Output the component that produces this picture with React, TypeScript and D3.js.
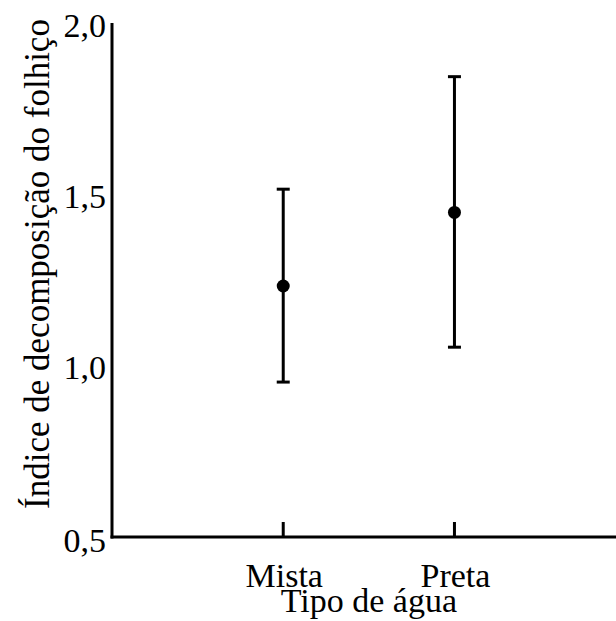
import React from "react";
import * as d3 from "d3";

const categories = ["Mista", "Preta"];
const means = [1.234, 1.449];
const upper = [1.517, 1.846];
const lower = [0.953, 1.055];
const yTicks = [0.5, 1.0, 1.5, 2.0];
const yTickLabels = ["0,5", "1,0", "1,5", "2,0"];
const xTitle = "Tipo de água";
const yTitle = "Índice de decomposição do folhiço";

const W = 616;
const H = 621;
const x0 = 112;
const yBottom = 537;
const yTop = 23;

export default function App() {
  const y = d3.scaleLinear().domain([0.5, 2.0]).range([yBottom, 24]);
  const x = d3.scaleLinear().domain([0, 2.85]).range([x0, 600]);
  const family = '"Liberation Serif", "Times New Roman", Times, serif';
  const ts: React.CSSProperties = { fontFamily: family, fontSize: 34 };
  const tx: React.CSSProperties = { fontFamily: family, fontSize: 34 };
  const tt: React.CSSProperties = { fontFamily: family, fontSize: 35 };
  return (
    <svg
      width={W}
      height={H}
      style={{ position: "absolute", left: 0, top: 0, background: "#fff" }}
    >
      <rect width={W} height={H} fill="#fff" />
      <line x1={x0} x2={x0} y1={yTop} y2={yBottom + 1.5} stroke="#000" strokeWidth={3} />
      <line x1={x0 - 1.5} x2={W} y1={yBottom} y2={yBottom} stroke="#000" strokeWidth={3} />
      {yTicks.map((t, i) => (
        <text key={t} x={x0 - 6} y={y(t) + 13 + (i === 0 ? 2 : 0)} textAnchor="end" style={ts}>
          {yTickLabels[i]}
        </text>
      ))}
      {categories.map((c, i) => (
        <g key={c}>
          <line x1={x(i + 1)} x2={x(i + 1)} y1={yBottom} y2={yBottom - 15} stroke="#000" strokeWidth={3} />
          <text x={x(i + 1) + 1} y={587} textAnchor="middle" style={ts}>
            {c}
          </text>
        </g>
      ))}
      {categories.map((c, i) => {
        const cx = x(i + 1);
        return (
          <g key={"e" + c}>
            <line x1={cx} x2={cx} y1={y(upper[i])} y2={y(lower[i])} stroke="#000" strokeWidth={3} />
            <line x1={cx - 6.5} x2={cx + 6.5} y1={y(upper[i])} y2={y(upper[i])} stroke="#000" strokeWidth={3} />
            <line x1={cx - 6.5} x2={cx + 6.5} y1={y(lower[i])} y2={y(lower[i])} stroke="#000" strokeWidth={3} />
            <circle cx={cx} cy={y(means[i])} r={6.5} fill="#000" />
          </g>
        );
      })}
      <text x={(x(1) + x(2)) / 2} y={612} textAnchor="middle" style={tx}>
        {xTitle}
      </text>
      <text transform={`translate(49, 264) rotate(-90)`} textAnchor="middle" style={tt}>
        {yTitle}
      </text>
    </svg>
  );
}
